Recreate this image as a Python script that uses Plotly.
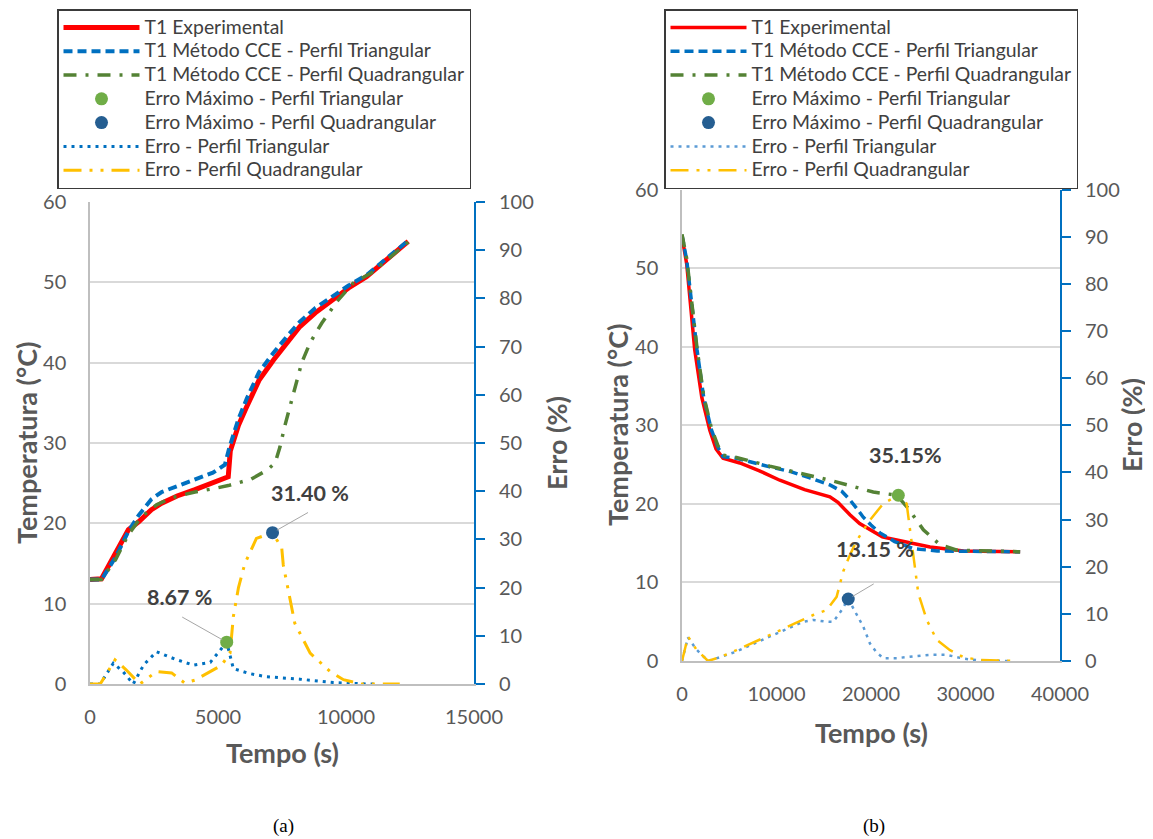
import plotly.graph_objects as go

# Screen is 1153x839; the page body has an 8px margin, so the figure is 8px smaller
# and every screen position is mapped with an 8px offset.
SW, SH = 1153, 839
OFF = 8
W, H = SW - OFF, SH - OFF

# ---------------- Panel (a) data ----------------
t_exp_a = [0, 450, 1000, 1500, 1900, 2400, 2800, 3400, 4100, 4800, 5400, 5480, 5800, 6120, 6600, 7160, 7700, 8200, 8800, 9500, 10100, 10800, 11600, 12430]
T_exp_a = [13.0, 13.1, 16.3, 19.2, 20.2, 21.7, 22.5, 23.4, 24.2, 25.0, 25.8, 29.0, 32.2, 34.5, 37.8, 40.3, 42.6, 44.5, 46.2, 47.9, 49.3, 50.7, 52.8, 55.1]

t_tri_a = [0, 450, 1000, 1500, 1900, 2400, 2800, 3400, 4100, 4800, 5270, 5450, 5800, 6120, 6600, 7160, 7700, 8200, 8800, 9500, 10100, 10800, 11600, 12430]
T_tri_a = [13.0, 13.0, 15.8, 19.0, 21.0, 23.0, 23.9, 24.6, 25.4, 26.3, 27.3, 29.5, 33.0, 35.5, 38.8, 41.2, 43.3, 45.1, 46.8, 48.3, 49.6, 50.9, 53.0, 55.2]

t_quad_a = [0, 450, 1000, 1500, 2000, 2600, 3200, 4100, 4800, 5400, 6300, 6900, 7230, 7420, 7600, 7810, 8050, 8270, 8600, 9050, 9640, 10280, 11000, 11700, 12430]
T_quad_a = [13.0, 13.0, 15.5, 18.6, 20.8, 22.3, 23.2, 23.9, 24.3, 24.7, 25.5, 26.6, 27.5, 29.5, 32.0, 34.5, 37.5, 40.0, 42.5, 44.9, 47.6, 49.9, 51.2, 53.0, 55.0]

t_etri_a = [0, 400, 910, 1300, 1690, 2100, 2600, 3300, 4040, 4700, 5340, 5600, 6200, 6900, 8200, 9500, 10800, 11200]
E_etri_a = [0, 0, 4.3, 2.5, 0, 4.0, 6.7, 5.2, 3.9, 4.5, 8.67, 3.2, 2.2, 1.5, 1.0, 0.3, 0, 0]

t_equad_a = [0, 400, 977, 1400, 1950, 2300, 2600, 3190, 3700, 4100, 4600, 5140, 5470, 5600, 5800, 6050, 6500, 7130, 7490, 7550, 8000, 8600, 9375, 9900, 10600, 12100]
E_equad_a = [0, 0, 5.0, 3.0, 0, 1.5, 2.6, 2.3, 0.2, 0.8, 2.3, 3.9, 6.4, 14.0, 20.0, 25.0, 30.2, 31.4, 28.2, 24.7, 12.6, 6.4, 2.6, 0.9, 0, 0]

max_tri_a = (5340, 8.67)
max_quad_a = (7130, 31.40)

# ---------------- Panel (b) data ----------------
t_exp_b = [0, 500, 1346, 2100, 2935, 3600, 4344, 6114, 8200, 10350, 12970, 15650, 16500, 17770, 18800, 19890, 21200, 22720, 26250, 29800, 35780]
T_exp_b = [54.0, 50.5, 39.6, 33.5, 29.4, 27.0, 25.8, 25.2, 24.2, 23.0, 21.8, 20.9, 20.2, 18.6, 17.5, 16.7, 15.8, 15.4, 14.5, 14.0, 13.9]

t_tri_b = [0, 500, 1590, 2300, 3115, 3800, 4344, 5760, 9290, 11500, 13530, 15650, 16900, 17770, 18500, 19180, 20000, 20950, 22500, 24480, 27000, 35780]
T_tri_b = [54.2, 51.0, 39.6, 33.5, 29.4, 27.2, 26.0, 25.8, 24.7, 24.1, 23.3, 22.4, 21.6, 20.5, 19.4, 18.3, 17.3, 16.3, 15.2, 14.3, 14.0, 13.9]

t_quad_b = [0, 500, 1590, 2300, 3115, 3800, 4344, 5760, 9290, 11500, 13530, 15650, 18130, 20240, 22720, 23950, 25540, 27300, 29100, 35780]
T_quad_b = [54.3, 51.2, 39.8, 33.7, 29.6, 27.4, 26.2, 25.9, 24.8, 24.2, 23.6, 23.0, 22.2, 21.5, 21.1, 19.4, 16.7, 14.8, 14.1, 13.9]

t_etri_b = [0, 635, 1500, 2755, 4000, 5760, 9290, 12820, 13880, 15000, 16000, 16900, 17590, 18480, 19180, 19890, 20600, 21300, 22720, 24500, 26250, 28020, 29800, 31500, 35000]
E_etri_b = [0, 5.0, 2.5, 0, 0.8, 2.0, 5.2, 8.3, 8.7, 8.4, 8.3, 10.8, 13.15, 9.8, 7.3, 3.7, 1.8, 0.6, 0.6, 1.0, 1.3, 1.3, 0.5, 0.1, 0]

t_equad_b = [0, 635, 1500, 2755, 4000, 5760, 9290, 12820, 13880, 15300, 16360, 17060, 17770, 18480, 19890, 21300, 22890, 23770, 24300, 25000, 25900, 26950, 28360, 29800, 31570, 35430]
E_equad_b = [0, 5.2, 2.5, 0, 0.8, 2.3, 5.5, 8.8, 9.75, 10.8, 13.6, 19.0, 22.5, 25.5, 29.9, 33.4, 35.15, 33.4, 25.0, 14.4, 8.7, 4.5, 2.3, 0.8, 0.2, 0]

max_green_b = (22890, 35.15)
max_blue_b = (17590, 13.15)

names = ["T1 Experimental",
         "T1 Método CCE - Perfil Triangular",
         "T1 Método CCE - Perfil Quadrangular",
         "Erro Máximo - Perfil Triangular",
         "Erro Máximo - Perfil Quadrangular",
         "Erro - Perfil Triangular",
         "Erro - Perfil Quadrangular"]

RED = "#FF0000"
BLUE = "#0070C0"
GREEN = "#548235"
GREEN_M = "#70AD47"
NAVY = "#255E91"
YEL = "#FFC000"
LBLUE = "#5B9BD5"
GRAY_T = "#595959"

fig = go.Figure()


def lname(i):
    return '<span style="font-size:19.4px">%s</span>' % names[i]


def add_panel(xa, ya, ya2, leg, d, lw):
    (t_e, T_e, t_t, T_t, t_q, T_q, t_et, E_et, t_eq, E_eq, mg, mb, err_tri_col) = d
    trs = [
        go.Scatter(x=t_e, y=T_e, mode="lines", name=lname(0), yaxis=ya, legendrank=1,
                   line=dict(color=RED, width=lw[0])),
        go.Scatter(x=t_t, y=T_t, mode="lines", name=lname(1), yaxis=ya, legendrank=2,
                   line=dict(color=BLUE, width=lw[1], dash="9px,5px")),
        go.Scatter(x=t_q, y=T_q, mode="lines", name=lname(2), yaxis=ya, legendrank=3,
                   line=dict(color=GREEN, width=lw[2], dash="13px,9px,3px,9px")),
        go.Scatter(x=t_et, y=E_et, mode="lines", name=lname(5), yaxis=ya2, legendrank=6,
                   line=dict(color=err_tri_col, width=lw[3], dash="3px,5px")),
        go.Scatter(x=t_eq, y=E_eq, mode="lines", name=lname(6), yaxis=ya2, legendrank=7,
                   line=dict(color=YEL, width=lw[3], dash="18px,8px,3px,8px,3px,8px")),
        go.Scatter(x=[mg[0]], y=[mg[1]], mode="markers", name=lname(3), yaxis=ya2, legendrank=4,
                   marker=dict(color=GREEN_M, size=13), cliponaxis=False),
        go.Scatter(x=[mb[0]], y=[mb[1]], mode="markers", name=lname(4), yaxis=ya2, legendrank=5,
                   marker=dict(color=NAVY, size=13), cliponaxis=False),
    ]
    for tr in trs:
        tr.update(xaxis=xa, legend=leg)
        fig.add_trace(tr)


add_panel("x", "y", "y2", "legend",
          (t_exp_a, T_exp_a, t_tri_a, T_tri_a, t_quad_a, T_quad_a, t_etri_a, E_etri_a,
           t_equad_a, E_equad_a, max_tri_a, max_quad_a, BLUE),
          [5, 4, 3.5, 3])
add_panel("x2", "y3", "y4", "legend2",
          (t_exp_b, T_exp_b, t_tri_b, T_tri_b, t_quad_b, T_quad_b, t_etri_b, E_etri_b,
           t_equad_b, E_equad_b, max_green_b, max_blue_b, LBLUE),
          [3.5, 3.5, 3.5, 2.5])


def px_x(p):
    return (p - OFF) / W


def px_y(p):
    return 1 - (p - OFF) / H


tickfont = dict(family="Lato", size=20, color=GRAY_T)

ax_l, ax_r, ay_b, ay_t = 90, 474, 684, 202
bx_l, bx_r, by_b, by_t = 682, 1060, 661, 189.5

common_x = dict(showgrid=False, zeroline=False, showline=True, linecolor="#BFBFBF", linewidth=1.5,
                ticks="", tickfont=tickfont, ticklabelstandoff=14, tickformat="d")
common_y = dict(showgrid=True, gridcolor="#D9D9D9", gridwidth=1.5, zeroline=False, showline=True,
                linecolor="#BFBFBF", linewidth=1.5, ticks="", tickfont=tickfont, ticklabelstandoff=18,
                range=[0, 60], dtick=10)
common_y2 = dict(showgrid=False, zeroline=False, showline=True, linecolor=BLUE, linewidth=2,
                 ticks="outside", ticklen=9, tickwidth=2, tickcolor=BLUE, tickfont=tickfont,
                 ticklabelstandoff=10, range=[0, 100], dtick=10, side="right")

fig.update_layout(
    xaxis=dict(domain=[px_x(ax_l), px_x(ax_r)], anchor="y", range=[0, 15000], dtick=5000, **common_x),
    yaxis=dict(domain=[px_y(ay_b), px_y(ay_t)], anchor="x", **common_y),
    yaxis2=dict(overlaying="y", anchor="x", **common_y2),
    xaxis2=dict(domain=[px_x(bx_l), px_x(bx_r)], anchor="y3", range=[0, 40000], dtick=10000, **common_x),
    yaxis3=dict(domain=[px_y(by_b), px_y(by_t)], anchor="x2", **common_y),
    yaxis4=dict(overlaying="y3", anchor="x2", **common_y2),
)

legend_common = dict(bgcolor="white", bordercolor="#3A3A3A", borderwidth=1.5,
                     font=dict(family="Lato", size=16, color="#404040"),
                     itemwidth=76, xanchor="left", yanchor="top", tracegroupgap=0,
                     traceorder="normal")
fig.update_layout(
    legend=dict(x=px_x(57), y=px_y(9), **legend_common),
    legend2=dict(x=px_x(664), y=px_y(9), **legend_common),
)

ann = []
title_font = dict(family="Lato", size=27, color=GRAY_T)
for (x, y, txt, ang) in [(26, 443, "Temperatura (°C)", -90), (556, 443, "Erro (%)", -90),
                         (282, 752, "Tempo (s)", 0),
                         (617, 425, "Temperatura (°C)", -90), (1131, 425, "Erro (%)", -90),
                         (871, 732, "Tempo (s)", 0)]:
    ann.append(dict(xref="paper", yref="paper", x=px_x(x), y=px_y(y), text="<b>%s</b>" % txt,
                    textangle=ang, showarrow=False, font=title_font, xanchor="center", yanchor="middle"))
for (x, txt) in [(283, "(a)"), (874, "(b)")]:
    ann.append(dict(xref="paper", yref="paper", x=px_x(x), y=px_y(826), text=txt, showarrow=False,
                    font=dict(family="Liberation Serif", size=19, color="black"),
                    xanchor="center", yanchor="middle"))

lab_font = dict(family="Lato", size=21.5, color="#404040")
labels = [
    ("x", "y2", max_tri_a, "8.67 %", -47, 45, -46, -26),
    ("x", "y2", max_quad_a, "31.40 %", 37, 40, 37, -21),
    ("x2", "y4", max_green_b, "35.15%", 7, 40, None, None),
    ("x2", "y4", max_blue_b, "13.15 %", 27, 50, 27, -16),
]
for xr, yr, pt, txt, xs, ys, axp, ayp in labels:
    ann.append(dict(xref=xr, yref=yr, x=pt[0], y=pt[1], text="<b>%s</b>" % txt, showarrow=False,
                    xshift=xs, yshift=ys, font=lab_font))
    if axp is not None:
        ann.append(dict(xref=xr, yref=yr, x=pt[0], y=pt[1], text="", showarrow=True, arrowhead=0,
                        arrowwidth=1, arrowcolor="#A6A6A6", ax=axp, ay=ayp, standoff=5))

fig.update_layout(annotations=ann, width=W, height=H,
                  margin=dict(l=0, r=0, t=0, b=0, autoexpand=False),
                  paper_bgcolor="white", plot_bgcolor="white", showlegend=True)

fig.write_html("out.html")
